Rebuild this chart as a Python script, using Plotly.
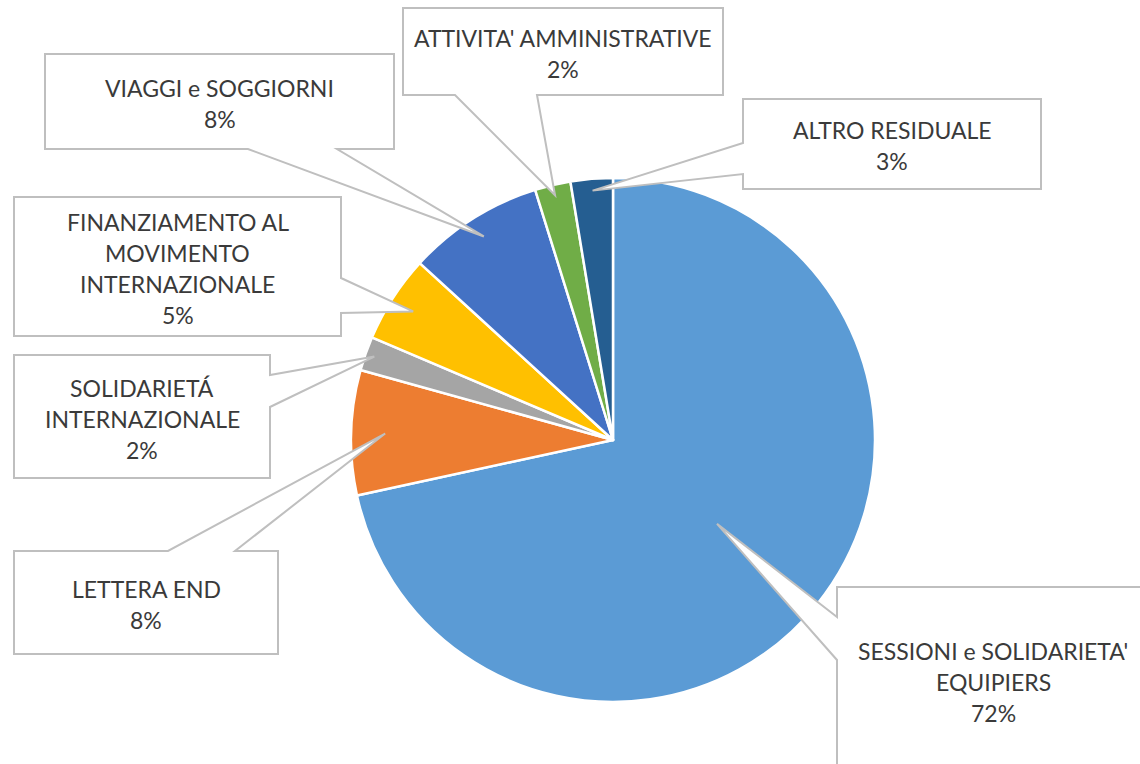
import math
import plotly.graph_objects as go

# ---------------- data ----------------
categories = [
    "SESSIONI e SOLIDARIETA' EQUIPIERS",
    "LETTERA END",
    "SOLIDARIETÁ INTERNAZIONALE",
    "FINANZIAMENTO AL MOVIMENTO INTERNAZIONALE",
    "VIAGGI e SOGGIORNI",
    "ATTIVITA' AMMINISTRATIVE",
    "ALTRO RESIDUALE",
]
values = [71.6, 7.7, 2.1, 5.4, 8.4, 2.2, 2.6]
label_lines = [
    ["SESSIONI e SOLIDARIETA'", "EQUIPIERS"],
    ["LETTERA END"],
    ["SOLIDARIETÁ", "INTERNAZIONALE"],
    ["FINANZIAMENTO AL", "MOVIMENTO", "INTERNAZIONALE"],
    ["VIAGGI e SOGGIORNI"],
    ["ATTIVITA' AMMINISTRATIVE"],
    ["ALTRO RESIDUALE"],
]
colors = ["#5B9BD5", "#ED7D31", "#A5A5A5", "#FFC000", "#4472C4", "#70AD47", "#255E91"]

# ---------------- layout geometry (pixels) ----------------
W, H = 1140, 764
CX, CY, R = 613, 440, 262

# callout boxes: (left, top, right, bottom), wedge side, wedge base (two coords), tip radius fraction
callouts = [
    ((837, 587, 1149, 773), "left", (617, 660), 0.51),
    ((14, 551, 278, 654), "top", (168, 235), 0.87),
    ((14, 355, 270, 478), "right", (375, 407), 0.965),
    ((14, 197, 341, 336), "right", (278, 313), 0.907),
    ((45, 54, 394, 149), "bottom", (248, 337), 0.92),
    ((403, 8, 723, 95), "bottom", (455, 537), 0.96),
    ((743, 99, 1041, 189), "left", (143, 174), 0.955),
]


def px(x):
    return x / W


def py(y):
    return 1 - y / H


fig = go.Figure()
fig.add_trace(go.Pie(
    labels=categories,
    values=values,
    sort=False,
    direction="clockwise",
    rotation=0,
    marker=dict(colors=colors, line=dict(color="white", width=2.5)),
    textinfo="none",
    hoverinfo="label+percent",
    showlegend=False,
    domain=dict(x=[px(CX - R), px(CX + R)], y=[py(CY + R), py(CY - R)]),
))

total = sum(values)
cum = 0.0
shapes = []
annotations = []
for i, v in enumerate(values):
    mid = (cum + v / 2) / total * 360.0
    cum += v
    (L, T, Rr, B), side, (a, b), rf = callouts[i]
    tx = CX + R * rf * math.sin(math.radians(mid))
    ty = CY - R * rf * math.cos(math.radians(mid))
    pts = [(L, T)]
    if side == "top":
        pts += [(a, T), (tx, ty), (b, T)]
    pts.append((Rr, T))
    if side == "right":
        pts += [(Rr, a), (tx, ty), (Rr, b)]
    pts.append((Rr, B))
    if side == "bottom":
        pts += [(b, B), (tx, ty), (a, B)]
    pts.append((L, B))
    if side == "left":
        pts += [(L, b), (tx, ty), (L, a)]
    path = "M " + " L ".join(f"{px(x):.5f},{py(y):.5f}" for x, y in pts) + " Z"
    shapes.append(dict(type="path", path=path, xref="paper", yref="paper",
                       fillcolor="white", line=dict(color="#BFBFBF", width=2),
                       layer="above"))
    lines = label_lines[i] + [f"{round(v / total * 100)}%"]
    n = len(lines)
    cx = (L + Rr) / 2
    cy = (T + B) / 2 + 2
    for j, t in enumerate(lines):
        yy = cy + (j - (n - 1) / 2) * 31
        annotations.append(dict(text=t, x=px(cx), y=py(yy), xref="paper", yref="paper",
                                xanchor="center", yanchor="middle", showarrow=False,
                                font=dict(family="Lato", size=23, color="#3A3A3A")))

fig.update_layout(
    width=W, height=H,
    margin=dict(l=0, r=0, t=0, b=0),
    paper_bgcolor="white",
    plot_bgcolor="white",
    shapes=shapes,
    annotations=annotations,
)

fig.write_html("out.html",
               config={"displayModeBar": False},
               post_script="document.body.style.margin='0';document.body.style.overflow='hidden';")
